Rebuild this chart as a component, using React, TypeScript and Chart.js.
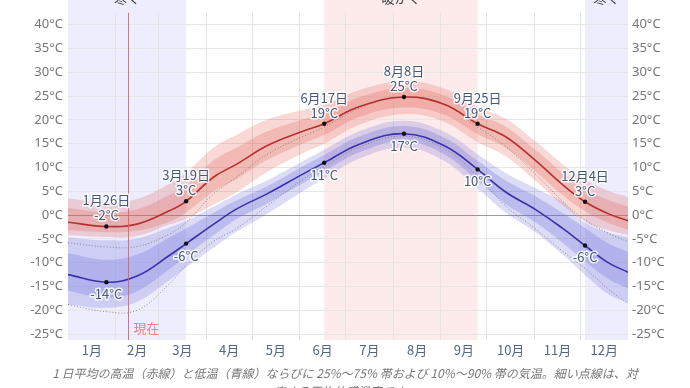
import React, { useEffect, useRef } from "react";
import { Chart, registerables } from "chart.js";
Chart.register(...registerables);

// Day-of-year knots (0 = Jan 1, 365 = Dec 31)
const knotDays = [0, 25, 45, 66, 77, 95, 110, 130, 153, 167, 190, 219, 245, 267, 285, 305, 322, 337, 352, 365];

// Average daily high (red line) and its percentile bands
const highMean = [-1.5, -2.4, -1.9, 0.9, 2.9, 8.0, 10.7, 14.6, 17.6, 19.2, 22.8, 24.8, 23.3, 19.2, 16.5, 11.4, 6.5, 2.8, 0.3, -1.2];
const high90 = [3.5, 2.7, 3.4, 6.6, 8.9, 14.2, 16.9, 20.1, 22.1, 23.2, 26.3, 28.1, 26.6, 22.7, 20.3, 15.4, 10.8, 7.4, 5.1, 3.8];
const high75 = [1.5, 0.6, 1.2, 4.2, 6.3, 11.5, 14.2, 17.6, 20.1, 21.4, 24.8, 26.7, 25.2, 21.2, 18.6, 13.6, 9.0, 5.5, 3.2, 1.8];
const high25 = [-3.2, -3.6, -3.3, -1.4, 0.6, 5.0, 7.6, 11.6, 15.0, 16.8, 20.6, 22.6, 21.1, 17.0, 14.2, 9.1, 4.3, 0.8, -1.6, -3.1];
const high10 = [-4.2, -4.6, -4.4, -2.0, -0.8, 2.2, 4.8, 9.1, 13.0, 15.0, 19.0, 21.2, 19.6, 15.3, 12.4, 7.1, 2.2, -1.4, -3.2, -4.2];

// Average daily low (blue line) and its percentile bands
const lowMean = [-12.5, -14.1, -12.8, -8.5, -6.0, -1.9, 1.3, 4.5, 8.6, 11.0, 14.9, 17.1, 14.6, 9.6, 4.9, 1.1, -2.7, -6.4, -10.0, -12.0];
const low90 = [-4.7, -5.3, -4.9, -2.6, -1.2, 1.8, 4.4, 7.3, 11.3, 13.7, 17.6, 19.8, 17.5, 12.8, 8.9, 5.6, 2.8, -1.6, -3.6, -4.7];
const low75 = [-8.0, -9.4, -8.3, -4.7, -2.8, 0.5, 3.1, 6.1, 10.2, 12.6, 16.5, 18.7, 16.3, 11.4, 7.3, 3.9, 0.5, -2.7, -5.9, -7.7];
const low25 = [-15.9, -17.4, -16.0, -11.4, -8.6, -4.2, -0.8, 2.5, 6.7, 9.2, 13.2, 15.5, 12.8, 7.2, 2.4, -1.6, -5.7, -9.7, -13.4, -15.5];
const low10 = [-18.8, -19.5, -18.2, -13.7, -11.0, -6.8, -3.5, 0.3, 5.0, 7.7, 11.9, 14.2, 11.4, 5.6, 0.6, -3.7, -8.2, -12.6, -16.6, -18.5];

// Perceived temperatures (thin dotted lines)
const feelsHigh = [-5.8, -6.7, -6.6, -4.0, -1.5, 4.5, 8.0, 12.8, 16.5, 18.5, 22.5, 24.8, 23.3, 18.5, 14.5, 8.5, 3.0, -1.0, -3.8, -5.6];
const feelsLow = [-18.8, -20.3, -20.0, -14.5, -10.5, -5.5, -2.8, 2.0, 7.5, 10.2, 14.3, 16.6, 14.0, 8.2, 2.0, -3.0, -7.5, -11.2, -15.5, -18.6];

// Annotated points
const markerDays = [25, 77, 167, 219, 267, 337];
const markerDates = ["1月26日", "3月19日", "6月17日", "8月8日", "9月25日", "12月4日"];
const markerHighLabels = ["-2°C", "3°C", "19°C", "25°C", "19°C", "3°C"];
const markerLowLabels = ["-14°C", "-6°C", "11°C", "17°C", "10°C", "-6°C"];

// Axes
const monthStarts = [0, 31, 59, 90, 120, 151, 181, 212, 243, 273, 304, 334, 365];
const monthLabels = ["1月", "2月", "3月", "4月", "5月", "6月", "7月", "8月", "9月", "10月", "11月", "12月"];
const yTicks = [-25, -20, -15, -10, -5, 0, 5, 10, 15, 20, 25, 30, 35, 40];

// Seasons
const coldSeasons = [[0, 77], [337, 365]];
const warmSeasons = [[167, 267]];
const seasonHeaders = [
  { from: 0, to: 77, text: "寒く" },
  { from: 167, to: 267, text: "暖かく" },
  { from: 337, to: 365, text: "寒く" },
];
const nowDay = 39;
const nowLabel = "現在";
const captionLines = [
  "1 日平均の高温（赤線）と低温（青線）ならびに 25%～75% 帯および 10%～90% 帯の気温。細い点線は、対",
  "応する平均体感温度です。",
];

const FONT = "'Noto Sans', 'Noto Sans CJK JP', sans-serif";
const JFONT = "'Noto Sans CJK JP', 'Noto Sans', sans-serif";

const pts = (vals: number[]) => knotDays.map((d, i) => ({ x: d, y: vals[i] }));

export default function App() {
  const ref = useRef<HTMLCanvasElement | null>(null);
  useEffect(() => {
    if (!ref.current) return;

    const bgPlugin = {
      id: "bg",
      beforeDraw(chart: any) {
        const { ctx, chartArea, scales } = chart;
        const xs = scales.x;
        ctx.save();
        ctx.fillStyle = "rgba(215,215,250,0.45)";
        coldSeasons.forEach(([a, b]) => {
          const x1 = xs.getPixelForValue(a);
          const x2 = xs.getPixelForValue(b);
          ctx.fillRect(x1, 0, x2 - x1, chartArea.bottom);
        });
        ctx.fillStyle = "rgba(250,205,205,0.4)";
        warmSeasons.forEach(([a, b]) => {
          const x1 = xs.getPixelForValue(a);
          const x2 = xs.getPixelForValue(b);
          ctx.fillRect(x1, 0, x2 - x1, chartArea.bottom);
        });
        ctx.restore();
      },
    };

    const annPlugin = {
      id: "ann",
      afterDatasetsDraw(chart: any) {
        const { ctx, chartArea, scales } = chart;
        const xs = scales.x;
        ctx.save();
        const nx = Math.round(xs.getPixelForValue(nowDay)) + 0.5;
        ctx.strokeStyle = "rgba(232,90,90,0.85)";
        ctx.lineWidth = 1;
        ctx.beginPath();
        ctx.moveTo(nx, chartArea.top);
        ctx.lineTo(nx, chartArea.bottom);
        ctx.stroke();
        ctx.fillStyle = "rgb(236,130,130)";
        ctx.font = `13px ${JFONT}`;
        ctx.textAlign = "left";
        ctx.textBaseline = "middle";
        ctx.fillText(nowLabel, nx + 5, chartArea.bottom - 12);

        const hiMeta = chart.getDatasetMeta(12);
        const loMeta = chart.getDatasetMeta(13);
        ctx.textAlign = "center";
        ctx.textBaseline = "middle";
        ctx.lineJoin = "round";
        const drawHalo = (t: string, x: number, y: number) => {
          ctx.lineWidth = 3;
          ctx.strokeStyle = "rgba(255,255,255,0.85)";
          ctx.strokeText(t, x, y);
          ctx.fillStyle = "rgb(68,88,120)";
          ctx.fillText(t, x, y);
        };
        ctx.font = `13px ${JFONT}`;
        markerDays.forEach((_, i) => {
          const p = hiMeta.data[i];
          drawHalo(markerDates[i], p.x, p.y - 26);
          drawHalo(markerHighLabels[i], p.x, p.y - 11);
          const q = loMeta.data[i];
          drawHalo(markerLowLabels[i], q.x, q.y + 12);
        });
        ctx.restore();
      },
      afterDraw(chart: any) {
        const { ctx, chartArea, scales } = chart;
        const xs = scales.x;
        ctx.save();
        ctx.font = `13px ${JFONT}`;
        ctx.fillStyle = "rgb(84,102,138)";
        ctx.textAlign = "center";
        ctx.textBaseline = "middle";
        for (let i = 0; i < 12; i++) {
          const mid = (monthStarts[i] + monthStarts[i + 1]) / 2;
          ctx.fillText(monthLabels[i], xs.getPixelForValue(mid), chartArea.bottom + 10);
        }
        ctx.font = `13px ${JFONT}`;
        ctx.fillStyle = "#3a3a3a";
        ctx.textBaseline = "alphabetic";
        seasonHeaders.forEach((h) => {
          const x = (xs.getPixelForValue(h.from) + xs.getPixelForValue(h.to)) / 2;
          ctx.fillText(h.text, x, 3);
        });
        ctx.font = `italic 12px ${JFONT}`;
        ctx.fillStyle = "rgb(120,120,120)";
        ctx.textBaseline = "middle";
        ctx.fillText(captionLines[0], 345, 373);
        ctx.fillText(captionLines[1], 345, 391);
        ctx.restore();
      },
    };

    const band = (vals: number[], color: string, fill: any) => ({
      data: pts(vals),
      borderColor: "transparent",
      borderWidth: 0,
      backgroundColor: color,
      fill,
      pointRadius: 0,
      tension: 0.4,
      order: 5,
    });

    const redOuter = "rgba(225,95,85,0.24)";
    const redInner = "rgba(225,95,85,0.26)";
    const blueOuter = "rgba(95,95,215,0.22)";
    const blueInner = "rgba(95,95,215,0.26)";

    const chart = new Chart(ref.current, {
      type: "line",
      data: {
        datasets: [
          band(high90, redOuter, 1) as any, // 0
          band(high10, redOuter, false), // 1
          band(high75, redInner, 3), // 2
          band(high25, redInner, false), // 3
          band(low90, blueOuter, 5), // 4
          band(low10, blueOuter, false), // 5
          band(low75, blueInner, 7), // 6
          band(low25, blueInner, false), // 7
          {
            data: pts(feelsHigh),
            borderColor: "rgba(110,110,110,0.75)",
            borderWidth: 1,
            borderDash: [1, 2],
            pointRadius: 0,
            fill: false,
            tension: 0.4,
            order: 3,
          }, // 8
          {
            data: pts(feelsLow),
            borderColor: "rgba(110,110,110,0.75)",
            borderWidth: 1,
            borderDash: [1, 2],
            pointRadius: 0,
            fill: false,
            tension: 0.4,
            order: 3,
          }, // 9
          {
            data: pts(highMean),
            borderColor: "rgb(182,48,48)",
            borderWidth: 1.6,
            pointRadius: 0,
            fill: false,
            tension: 0.4,
            order: 2,
          }, // 10
          {
            data: pts(lowMean),
            borderColor: "rgb(58,50,168)",
            borderWidth: 1.6,
            pointRadius: 0,
            fill: false,
            tension: 0.4,
            order: 2,
          }, // 11
          {
            data: markerDays.map((d) => ({ x: d, y: highMean[knotDays.indexOf(d)] })),
            showLine: false,
            pointRadius: 2.2,
            pointBackgroundColor: "#111",
            pointBorderWidth: 0,
            order: 1,
          }, // 12
          {
            data: markerDays.map((d) => ({ x: d, y: lowMean[knotDays.indexOf(d)] })),
            showLine: false,
            pointRadius: 2.2,
            pointBackgroundColor: "#111",
            pointBorderWidth: 0,
            order: 1,
          }, // 13
        ],
      },
      options: {
        responsive: false,
        animation: false,
        devicePixelRatio: 1,
        layout: { padding: { top: 10, left: 0, right: 0, bottom: 0 } },
        plugins: { legend: { display: false }, tooltip: { enabled: false } },
        scales: {
          x: {
            type: "linear",
            min: 0,
            max: 365,
            position: "bottom",
            afterBuildTicks: (s: any) => {
              s.ticks = monthStarts.slice(1, -1).map((v) => ({ value: v }));
            },
            afterFit: (s: any) => {
              s.height = 48;
            },
            ticks: { display: false },
            grid: { color: "#e4e4e4", drawTicks: false },
            border: { display: false },
          },
          y: {
            type: "linear",
            min: -26.25,
            max: 42.5,
            position: "left",
            afterBuildTicks: (s: any) => {
              s.ticks = yTicks.map((v) => ({ value: v }));
            },
            afterFit: (s: any) => {
              s.width = 68;
            },
            ticks: {
              autoSkip: false,
              padding: 5,
              color: "rgb(118,118,118)",
              font: { family: FONT, size: 13 },
              callback: (v: any) => `${v}°C`,
            },
            grid: {
              color: (c: any) => (c.tick && c.tick.value === 0 ? "#9a9a9a" : "#e6e6e6"),
              drawTicks: false,
            },
            border: { display: false },
          },
          y2: {
            type: "linear",
            min: -26.25,
            max: 42.5,
            position: "right",
            afterBuildTicks: (s: any) => {
              s.ticks = yTicks.map((v) => ({ value: v }));
            },
            afterFit: (s: any) => {
              s.width = 62;
            },
            ticks: {
              autoSkip: false,
              padding: 4,
              color: "rgb(118,118,118)",
              font: { family: FONT, size: 13 },
              callback: (v: any) => `${v}°C`,
            },
            grid: { display: false, drawTicks: false },
            border: { display: false },
          },
        },
      },
      plugins: [bgPlugin, annPlugin],
    } as any);
    return () => chart.destroy();
  }, []);

  return (
    <div style={{ position: "fixed", left: 0, top: 0, width: 690, height: 388, background: "#fff" }}>
      <canvas ref={ref} width={690} height={388} style={{ width: 690, height: 388, display: "block" }} />
    </div>
  );
}
